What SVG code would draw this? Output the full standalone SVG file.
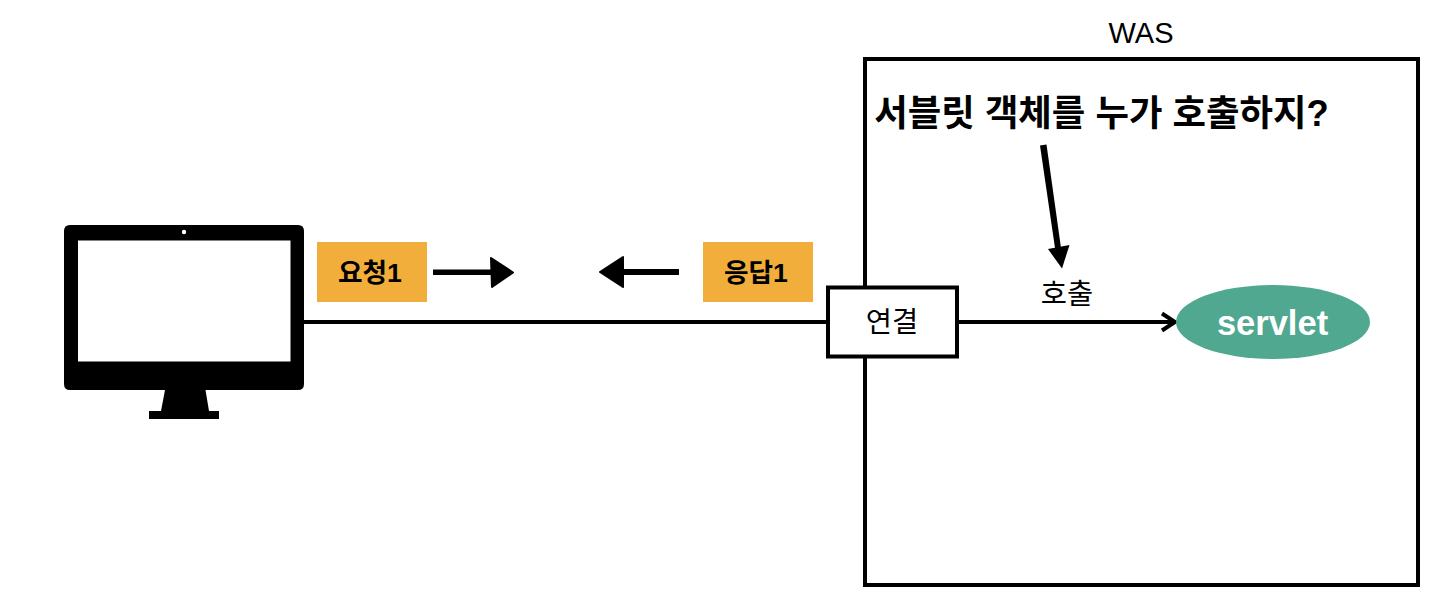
<svg xmlns="http://www.w3.org/2000/svg" width="1440" height="597" viewBox="0 0 1440 597">
<style>
text{font-family:"Liberation Sans","Noto Sans CJK KR",sans-serif;fill:#000;text-anchor:middle}
.tag{fill:#f2ae3b}
.line{stroke:#000;fill:none;stroke-width:4}
.head{fill:#000;stroke:#000;stroke-width:2;stroke-linejoin:round}
.b{font-weight:700}
</style>
<rect width="1440" height="597" fill="#fff"/>
<g id="was">
<rect x="865" y="59" width="553" height="526" fill="#fff" stroke="#000" stroke-width="4"/>
<text x="1141" y="43" font-size="29">WAS</text>
<text x="1101.500" y="126" font-size="36.400" class="b">서블릿 객체를 누가 호출하지?</text>
</g>
<g id="connectors">
<path class="line" d="M303 322H829"/>
<path class="line" d="M958 322H1174"/>
<path class="line" d="M1162 313.500L1175 322L1162 330.500"/>
<path d="M1040 145.500L1046.500 144.500L1061 248L1055 248Z" fill="#000"/>
<path d="M1048 249L1069.500 245L1062 268.500Z" fill="#000"/>
<path d="M433 269.500H492V275H433Z" fill="#000"/>
<path class="head" d="M491 258L513 272.500L492 287Z"/>
<path d="M679 269H620V275H679Z" fill="#000"/>
<path class="head" d="M623 257L600 272L623 287Z"/>
</g>
<g id="computer">
<path d="M70 225H298Q304 225 304 231V384Q304 390 298 390H205.500L209 411H219V419H149V411H161L165 390H70Q64 390 64 384V231Q64 225 70 225Z" fill="#000"/>
<rect x="78" y="240.500" width="212.500" height="121" fill="#fff"/>
<circle cx="184" cy="232" r="2.200" fill="#fff"/>
</g>
<g id="request">
<rect class="tag" x="317" y="242" width="110" height="60"/>
<text x="370" y="282" font-size="26.700" class="b">요청1</text>
</g>
<g id="response">
<rect class="tag" x="703" y="242" width="110" height="60"/>
<text x="756" y="282" font-size="26.700" class="b">응답1</text>
</g>
<g id="connection">
<rect x="828" y="287.500" width="129" height="69" fill="#fff" stroke="#000" stroke-width="4"/>
<text x="892" y="332" font-size="28.500">연결</text>
</g>
<g id="call-label">
<text x="1067" y="304" font-size="28.500">호출</text>
</g>
<g id="servlet">
<ellipse cx="1273" cy="322" rx="97" ry="37" fill="#4fa88f"/>
<text x="1272.500" y="335" font-size="34.500" class="b" style="fill:#fff">servlet</text>
</g>
</svg>
